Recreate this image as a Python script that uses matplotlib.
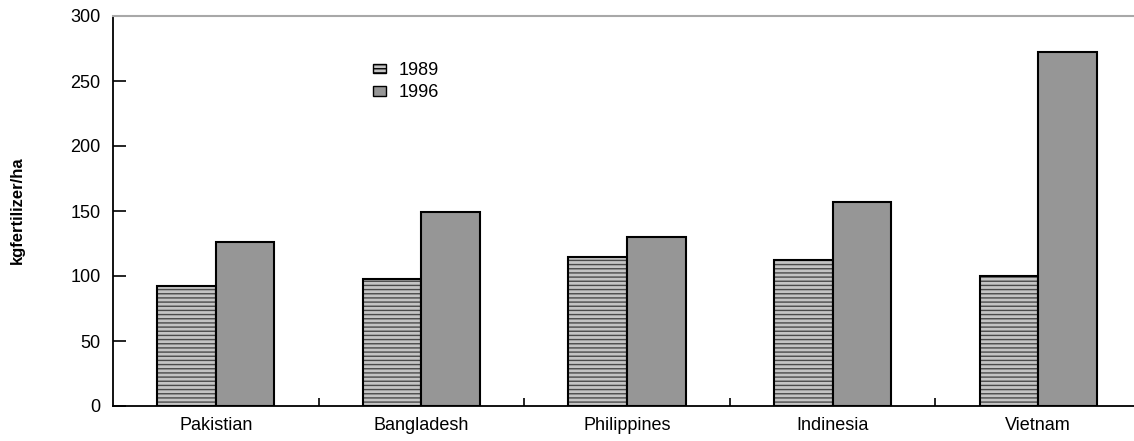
import numpy as np
import matplotlib
matplotlib.use("Agg")
import matplotlib.pyplot as plt
from matplotlib.patches import Patch

plt.rcParams["font.family"] = ["Liberation Sans", "DejaVu Sans"]

countries = ["Pakistian", "Bangladesh", "Philippines", "Indinesia", "Vietnam"]
fert_1989 = [92, 98, 115, 112, 100]
fert_1996 = [126, 149, 130, 157, 272]
years = ["1989", "1996"]

W, H = 1134, 441
fig = plt.figure(figsize=(W / 100, H / 100), dpi=100)
# axes run slightly past the right edge of the figure
ax = fig.add_axes([113 / W, (H - 406) / H, (1141 - 113) / W, (406 - 16) / H])

x = np.arange(len(countries))
bw = 0.285

# striped bars: hatch drawn first, black outline on top
ax.bar(x - bw / 2, fert_1989, bw, facecolor="#c4c4c4", edgecolor="#4a4a4a",
       hatch="----", linewidth=0)
ax.bar(x - bw / 2, fert_1989, bw, fill=False, edgecolor="black", linewidth=1.5)
ax.bar(x + bw / 2, fert_1996, bw, color="#969696", edgecolor="black", linewidth=1.5)

ax.set_xlim(-0.5, len(countries) - 0.5)
ax.set_ylim(0, 300)
ax.set_yticks(np.arange(0, 301, 50))
ax.tick_params(axis="y", direction="in", length=9, width=1.2, labelsize=13, pad=9)
ax.set_xticks(x)
ax.set_xticklabels(countries)
ax.tick_params(axis="x", length=0, labelsize=13, pad=8)
ax.set_xticks(np.arange(0.5, len(countries) - 0.5, 1), minor=True)
ax.tick_params(axis="x", which="minor", direction="in", length=6, width=1.2)

for s in ["left", "bottom"]:
    ax.spines[s].set_linewidth(1.3)
ax.spines["top"].set_color("#a8a8a8")
ax.spines["top"].set_linewidth(1.5)
ax.spines["right"].set_visible(False)

ax.set_ylabel("kgfertilizer/ha", fontsize=12, fontweight="bold")
ax.yaxis.set_label_coords(25 / W, 1 - 210 / H, transform=fig.transFigure)

handles = [
    Patch(facecolor="#c4c4c4", edgecolor="black", hatch="----", linewidth=1),
    Patch(facecolor="#969696", edgecolor="black", linewidth=1),
]
ax.legend(handles, years, loc="upper left", bbox_to_anchor=(364 / W, 1 - 53 / H),
          bbox_transform=fig.transFigure, frameon=False, fontsize=13, borderpad=0,
          handlelength=0.7, handleheight=0.45, handletextpad=0.7, labelspacing=0.3)

fig.savefig("out.png", dpi=100)
